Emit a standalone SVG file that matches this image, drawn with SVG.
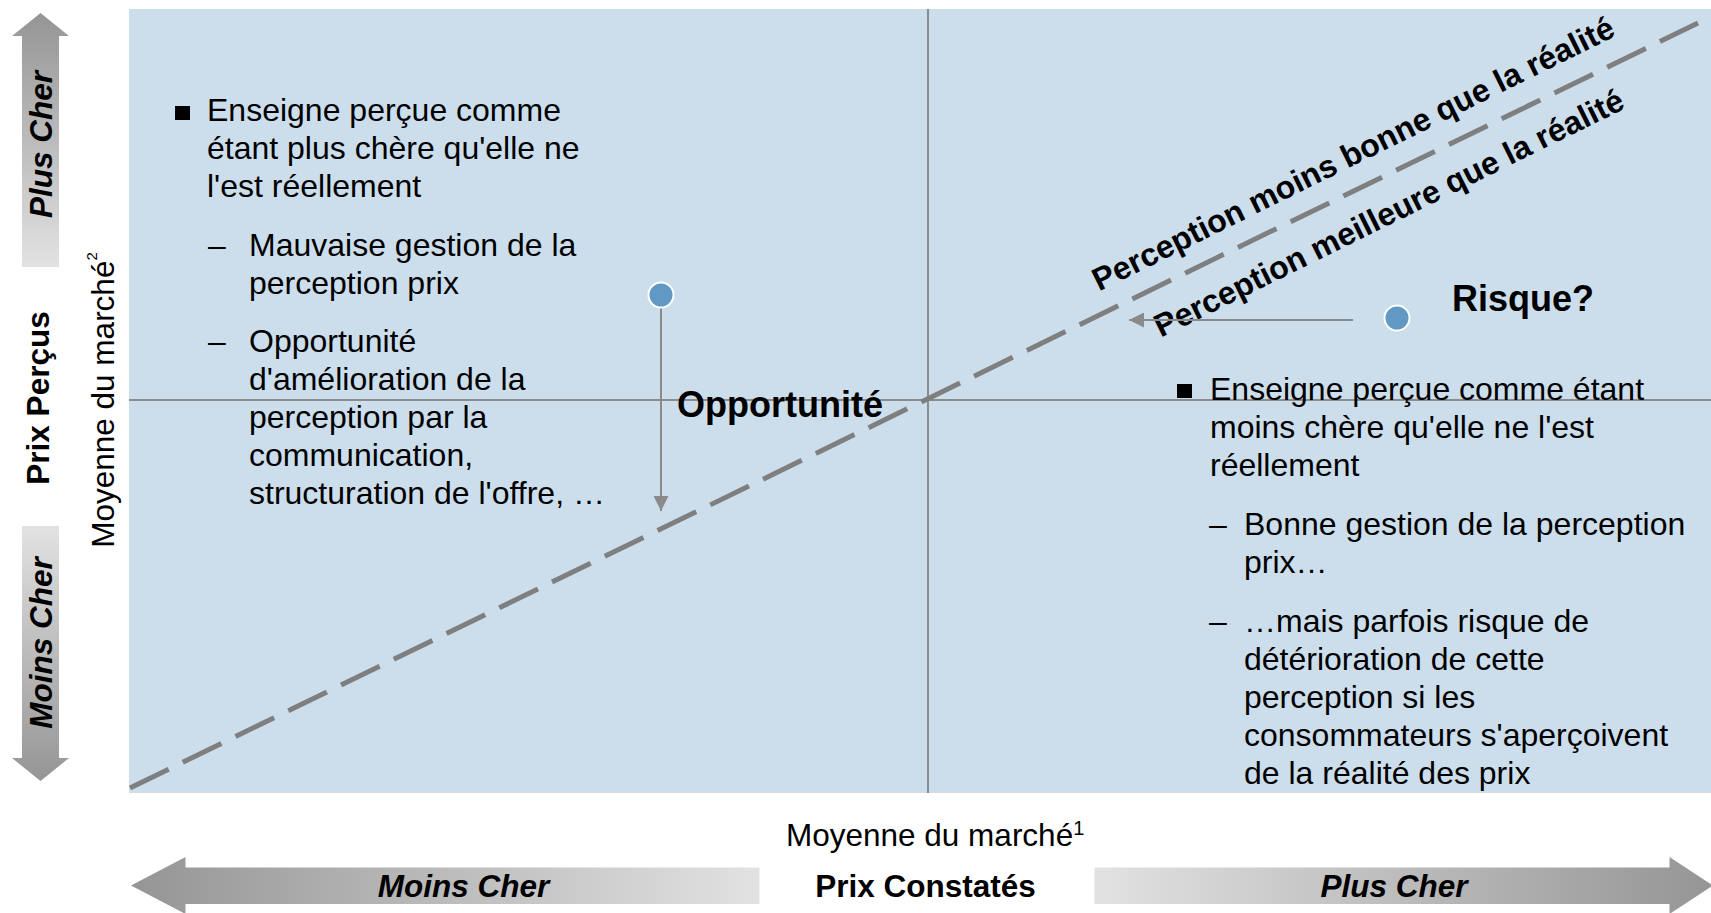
<svg xmlns="http://www.w3.org/2000/svg" width="1711" height="913" viewBox="0 0 1711 913">
  <defs>
    <linearGradient id="gUp" x1="0" y1="0" x2="0" y2="1">
      <stop offset="0" stop-color="#959595"/>
      <stop offset="1" stop-color="#e2e2e2"/>
    </linearGradient>
    <linearGradient id="gDown" x1="0" y1="0" x2="0" y2="1">
      <stop offset="0" stop-color="#e2e2e2"/>
      <stop offset="1" stop-color="#959595"/>
    </linearGradient>
    <linearGradient id="gLeft" x1="0" y1="0" x2="1" y2="0">
      <stop offset="0" stop-color="#959595"/>
      <stop offset="1" stop-color="#e2e2e2"/>
    </linearGradient>
    <linearGradient id="gRight" x1="0" y1="0" x2="1" y2="0">
      <stop offset="0" stop-color="#e2e2e2"/>
      <stop offset="1" stop-color="#959595"/>
    </linearGradient>
    <marker id="head" viewBox="0 0 10 10" refX="10" refY="5" markerWidth="15" markerHeight="15" markerUnits="userSpaceOnUse" orient="auto">
      <path d="M0,0 L10,5 L0,10 Z" fill="#8a8a8a"/>
    </marker>
  </defs>
  <style>
    text { font-family: "Liberation Sans", Arial, sans-serif; fill: #000; }
    .body { font-size: 32px; }
    .axisLabel { font-size: 31.5px; }
    .big { font-size: 36px; font-weight: bold; }
    .axis { font-size: 31.5px; font-weight: bold; }
    .axisIt { font-size: 31.5px; font-weight: bold; font-style: italic; }
    .diag { font-size: 32px; font-weight: bold; }
    .grid { stroke: #8c8c8c; stroke-width: 2; fill: none; }
    .pt { fill: #6199c4; stroke: #ffffff; stroke-width: 2; }
    .link { stroke: #8a8a8a; stroke-width: 2; fill: none; }
  </style>

  <!-- plot area -->
  <g id="plot">
    <rect x="129" y="9" width="1582" height="784" fill="#ccdeec"/>
    <line class="grid" x1="129" y1="400" x2="1711" y2="400"/>
    <line class="grid" x1="928" y1="9" x2="928" y2="793"/>
    <line x1="130" y1="788" x2="1698" y2="23" stroke="#7f7f7f" stroke-width="5" stroke-dasharray="43 15.7"/>
  </g>

  <!-- labels along the diagonal -->
  <g id="diagonal-labels" transform="translate(928,399.4) rotate(-26.3)">
    <text class="diag" x="201" y="-21">Perception moins bonne que la réalité</text>
    <text class="diag" x="236" y="48">Perception meilleure que la réalité</text>
  </g>

  <!-- vertical axis -->
  <g id="axis-y">
    <polygon points="40.5,13 69,36 59,36 59,267 22,267 22,36 12,36" fill="url(#gUp)"/>
    <polygon points="22,526 59,526 59,758 69,758 40.5,781 12,758 22,758" fill="url(#gDown)"/>
    <text class="axisIt" transform="translate(52,144.5) rotate(-90)" text-anchor="middle">Plus Cher</text>
    <text class="axisIt" transform="translate(52,643) rotate(-90)" text-anchor="middle">Moins Cher</text>
    <text class="axis" transform="translate(49,398) rotate(-90)" text-anchor="middle">Prix Perçus</text>
    <text class="axisLabel" transform="translate(114,400) rotate(-90)" text-anchor="middle">Moyenne du marché<tspan font-size="15" dy="-17">2</tspan></text>
  </g>

  <!-- horizontal axis -->
  <g id="axis-x">
    <polygon points="131,885.5 185.5,857 185.5,867.5 759.5,867.5 759.5,904 185.5,904 185.5,914 " fill="url(#gLeft)"/>
    <polygon points="1094.5,867.5 1669.5,867.5 1669.5,857 1713,885.5 1669.5,914 1669.5,904 1094.5,904" fill="url(#gRight)"/>
    <text class="axisIt" x="463.5" y="897" text-anchor="middle">Moins Cher</text>
    <text class="axisIt" x="1394" y="897" text-anchor="middle">Plus Cher</text>
    <text class="axis" x="925.5" y="897" text-anchor="middle">Prix Constatés</text>
    <text class="axisLabel" x="786" y="846">Moyenne du marché<tspan font-size="20" dy="-11">1</tspan></text>
  </g>

  <!-- upper-left quadrant -->
  <g id="quadrant-overpriced">
    <rect x="175" y="106" width="15" height="14" fill="#000"/>
    <text class="body" x="207" y="121">Enseigne perçue comme</text>
    <text class="body" x="207" y="159">étant plus chère qu'elle ne</text>
    <text class="body" x="207" y="197">l'est réellement</text>
    <text class="body" x="208" y="256">–</text>
    <text class="body" x="249" y="256">Mauvaise gestion de la</text>
    <text class="body" x="249" y="294">perception prix</text>
    <text class="body" x="208" y="352">–</text>
    <text class="body" x="249" y="352">Opportunité</text>
    <text class="body" x="249" y="390">d'amélioration de la</text>
    <text class="body" x="249" y="428">perception par la</text>
    <text class="body" x="249" y="466">communication,</text>
    <text class="body" x="249" y="504">structuration de l'offre, …</text>
  </g>

  <!-- lower-right quadrant -->
  <g id="quadrant-underpriced">
    <rect x="1177" y="384" width="15" height="14" fill="#000"/>
    <text class="body" x="1210" y="400">Enseigne perçue comme étant</text>
    <text class="body" x="1210" y="438">moins chère qu'elle ne l'est</text>
    <text class="body" x="1210" y="476">réellement</text>
    <text class="body" x="1209" y="535">–</text>
    <text class="body" x="1244" y="535">Bonne gestion de la perception</text>
    <text class="body" x="1244" y="573">prix…</text>
    <text class="body" x="1209" y="632">–</text>
    <text class="body" x="1244" y="632">…mais parfois risque de</text>
    <text class="body" x="1244" y="670">détérioration de cette</text>
    <text class="body" x="1244" y="708">perception si les</text>
    <text class="body" x="1244" y="746">consommateurs s'aperçoivent</text>
    <text class="body" x="1244" y="784">de la réalité des prix</text>
  </g>

  <!-- movement arrows -->
  <g id="connectors">
    <line class="link" x1="661" y1="308" x2="661" y2="511" marker-end="url(#head)"/>
    <line class="link" x1="1353" y1="320" x2="1129" y2="320" marker-end="url(#head)"/>
  </g>

  <g id="point-opportunite">
    <circle class="pt" cx="661" cy="295" r="12.5"/>
    <text class="big" x="677" y="417">Opportunité</text>
  </g>

  <g id="point-risque">
    <circle class="pt" cx="1397" cy="318" r="12.5"/>
    <text class="big" x="1452" y="311">Risque?</text>
  </g>
</svg>
